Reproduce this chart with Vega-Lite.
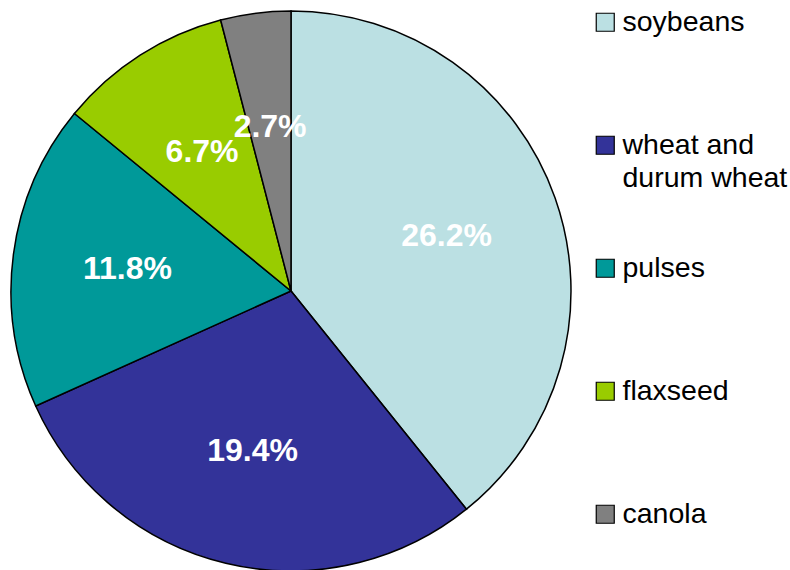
{
  "$schema": "https://vega.github.io/schema/vega-lite/v6.json",
  "width": 582,
  "height": 560,
  "padding": {"left": 0, "top": 11, "right": 208, "bottom": 0},
  "autosize": {"type": "none"},
  "background": "white",
  "config": {"view": {"stroke": null}, "font": "Liberation Sans"},
  "data": {
    "values": [
      {"crop": "soybeans", "share": 0.262, "order": 1},
      {"crop": "wheat and durum wheat", "share": 0.194, "order": 2},
      {"crop": "pulses", "share": 0.118, "order": 3},
      {"crop": "flaxseed", "share": 0.067, "order": 4},
      {"crop": "canola", "share": 0.027, "order": 5}
    ]
  },
  "encoding": {
    "theta": {"field": "share", "type": "quantitative", "stack": true},
    "order": {"field": "order", "type": "ordinal"}
  },
  "layer": [
    {
      "mark": {"type": "arc", "stroke": "black", "strokeWidth": 1.5},
      "encoding": {
        "color": {
          "field": "crop",
          "type": "nominal",
          "scale": {
            "domain": ["soybeans", "wheat and durum wheat", "pulses", "flaxseed", "canola"],
            "range": ["#BBE0E3", "#333399", "#009999", "#99CC00", "#808080"]
          },
          "legend": {
            "title": null,
            "orient": "none",
            "legendX": 591,
            "legendY": -3,
            "symbolType": "square",
            "symbolSize": 324,
            "symbolStrokeColor": "black",
            "symbolStrokeWidth": 1.2,
            "labelFont": "Liberation Sans",
            "labelFontSize": 28.5,
            "labelColor": "black",
            "labelOffset": 3,
            "labelLimit": 300,
            "gridAlign": "all",
            "rowPadding": 61,
            "labelExpr": "datum.label == 'wheat and durum wheat' ? ['wheat and', 'durum wheat'] : datum.label",
            "encode": {"labels": {"update": {"lineHeight": {"value": 33}}}}
          }
        }
      }
    },
    {
      "mark": {"type": "text", "radius": 165, "font": "Liberation Sans", "fontWeight": "bold", "fontSize": 32},
      "encoding": {
        "detail": {"field": "crop", "type": "nominal"},
        "color": {"value": "white"},
        "text": {"field": "share", "type": "quantitative", "format": ".1%"}
      }
    }
  ]
}
